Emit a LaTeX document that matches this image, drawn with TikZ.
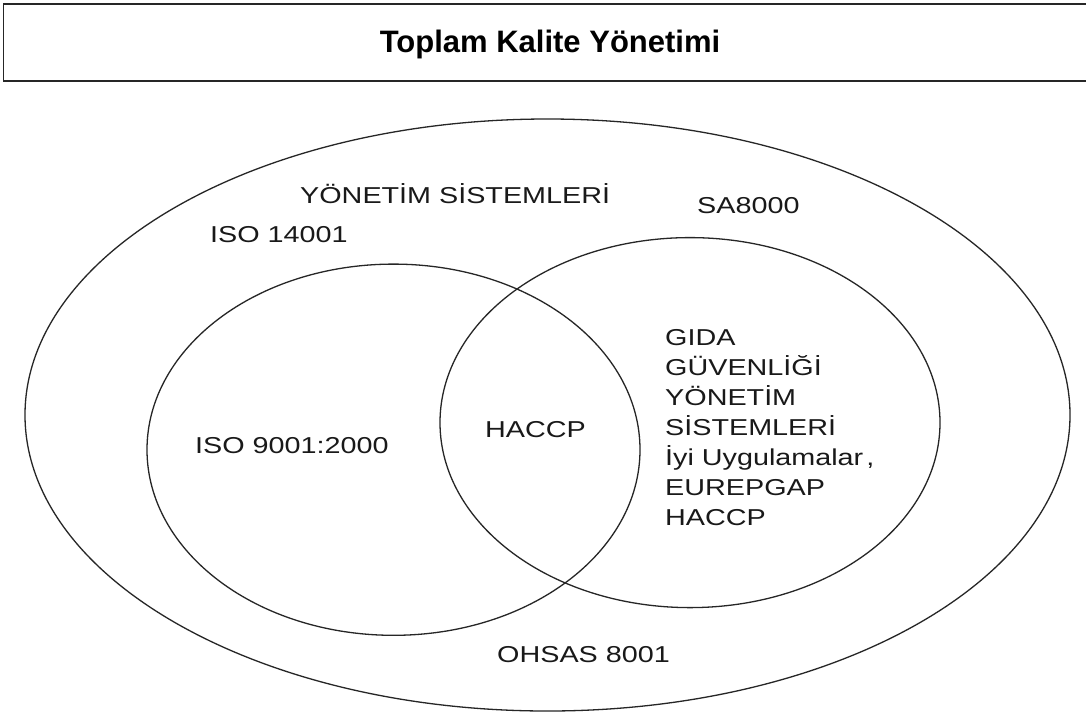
\documentclass[tikz,border=0pt]{standalone}
\usepackage{fontspec}
\setmainfont{Liberation Sans}
\newfontfamily\lab[FakeStretch=1.25]{Liberation Sans}
\begin{document}
\begin{tikzpicture}[x=1pt,y=-1pt,
  ring/.style={draw=black!85,line width=1.3pt},
  lbl/.style={anchor=base west,inner sep=0pt,font=\lab\fontsize{23}{23}\selectfont,text=black!90},
  ttl/.style={anchor=base,inner sep=0pt,font=\bfseries\fontsize{31}{31}\selectfont}]
\useasboundingbox (0,0) rectangle (1086,713);
\fill[white] (0,0) rectangle (1086,713);
% title box
\draw[line width=1.6pt,draw=black!85] (3.5,4) rectangle (1095,81);
\node[ttl] (title) at (550,52) {Toplam Kalite Yönetimi};
% ellipses
\draw[ring] (547.5,415) ellipse [x radius=522.5, y radius=296];
\draw[ring] (393.5,449.7) ellipse [x radius=246.5, y radius=185.6];
\draw[ring] (690,422.6) ellipse [x radius=250, y radius=185];
% labels
\node[lbl] (ys) at (300,203) {YÖNETİM SİSTEMLERİ};
\node[lbl] (sa) at (697,213) {SA8000};
\node[lbl] (iso14) at (210,242) {ISO 14001};
\node[lbl] (iso9) at (195,453) {ISO 9001:2000};
\node[lbl] (hac) at (485,437) {HACCP};
\node[lbl] (g1) at (665,345) {GIDA};
\node[lbl] (g2) at (665,375) {GÜVENLİĞİ};
\node[lbl] (g3) at (665,405) {YÖNETİM};
\node[lbl] (g4) at (665,435) {SİSTEMLERİ};
\node[lbl] (g5) at (665,465) {İyi Uygulamalar\hspace{3pt},};
\node[lbl] (g6) at (665,495) {EUREPGAP};
\node[lbl] (g7) at (665,525) {HACCP};
\node[lbl] (oh) at (497,662) {OHSAS 8001};
\end{tikzpicture}
\end{document}
